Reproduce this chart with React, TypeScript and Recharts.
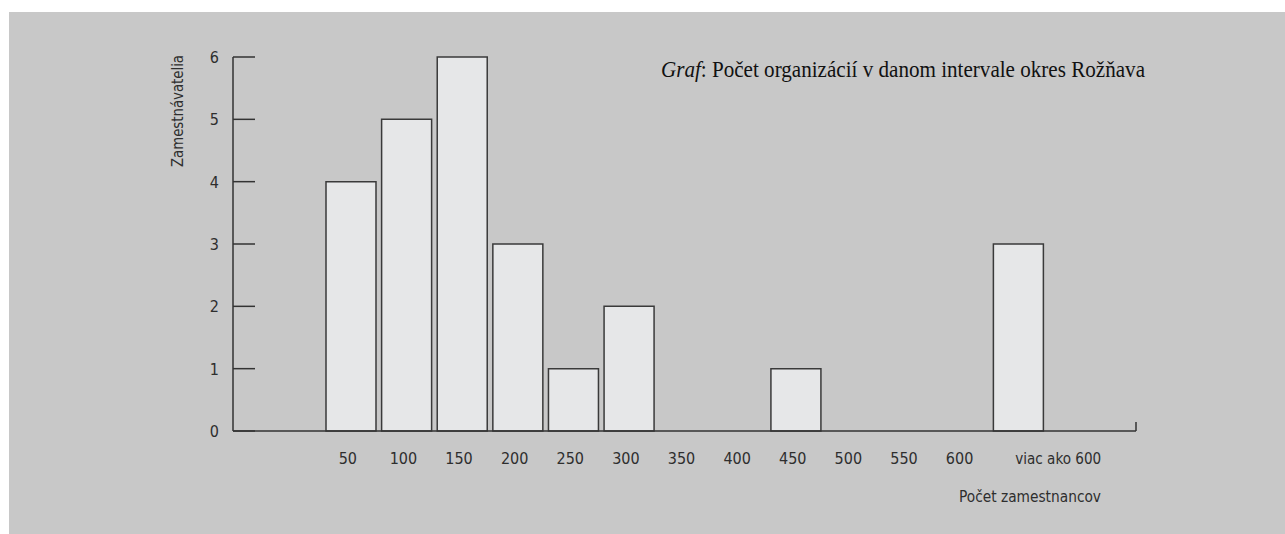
import React from "react";
import { BarChart, Bar, XAxis, YAxis } from "recharts";

const categories: string[] = ["50", "100", "150", "200", "250", "300", "350", "400", "450", "500", "550", "600", "viac ako 600"];
const counts: number[] = [4, 5, 6, 3, 1, 2, 0, 0, 1, 0, 0, 0, 3];
const yTicks: number[] = [0, 1, 2, 3, 4, 5, 6];

const titleItalic = "Graf";
const titleRest = ": Počet organizácií v danom intervale okres Rožňava";
const yLabel = "Zamestnávatelia";
const xLabel = "Počet zamestnancov";

const data = categories.map((c, i) => ({ name: c, value: counts[i] }));

const SANS = "'Liberation Sans Narrow', 'DejaVu Sans Condensed', sans-serif";
const SERIF = "'Liberation Serif', 'DejaVu Serif', serif";
const AXIS = "#333333";
const TEXT = "#2e2e2e";

const YTick = (props: any) => {
  const { x, y, payload } = props;
  return (
    <g>
      <line x1={x} y1={y} x2={x + 22} y2={y} stroke={AXIS} strokeWidth={1.5} />
      <text x={x - 14} y={y + 6} textAnchor="end" fontFamily={SANS} fontSize={16} fill={TEXT}>
        {payload.value}
      </text>
    </g>
  );
};

const XTick = (props: any) => {
  const { x, y, payload } = props;
  const long = payload.value === "viac ako 600";
  const shift = long ? 40 : -3;
  return (
    <text
      x={x + shift}
      y={y + 33}
      textAnchor="middle"
      fontFamily={SANS}
      fontSize={16}
      fill={TEXT}
      {...(long ? { textLength: 86, lengthAdjust: "spacingAndGlyphs" } : {})}
    >
      {payload.value}
    </text>
  );
};

const XLabel = (props: any) => {
  const vb = props.viewBox || {};
  const right = vb.x + vb.width;
  return (
    <g>
      <line x1={right} y1={vb.y - 9} x2={right} y2={vb.y} stroke={AXIS} strokeWidth={1.5} />
      <text
        x={950}
        y={vb.y + 71}
        fontFamily={SANS}
        fontSize={16}
        fill={TEXT}
        textLength={142}
        lengthAdjust="spacingAndGlyphs"
      >
        {xLabel}
      </text>
    </g>
  );
};

const YLabel = (props: any) => {
  const vb = props.viewBox || {};
  const cx = 168;
  const cy = vb.y + 54;
  return (
    <g>
      <text
        x={cx - 56}
        y={cy}
        transform={`rotate(-90 ${cx} ${cy})`}
        dominantBaseline="central"
        fontFamily={SANS}
        fontSize={16}
        fill={TEXT}
        textLength={112}
        lengthAdjust="spacingAndGlyphs"
      >
        {yLabel}
      </text>
      <text x={652} y={65} fontFamily={SERIF} fontSize={23} fill="#111" textLength={484} lengthAdjust="spacingAndGlyphs">
        <tspan fontStyle="italic">{titleItalic}</tspan>
        <tspan>{titleRest}</tspan>
      </text>
    </g>
  );
};

export default function App() {
  return (
    <div
      style={{
        position: "absolute",
        left: 9,
        top: 12,
        width: 1276,
        height: 522,
        background: "#c8c8c8",
      }}
    >
      <BarChart
        width={1276}
        height={522}
        data={data}
        margin={{ top: 45, right: 149, bottom: 73, left: 164 }}
      >
        <XAxis
          dataKey="name"
          type="category"
          height={30}
          padding={{ left: 90, right: 90 }}
          axisLine={{ stroke: AXIS, strokeWidth: 1.5 }}
          tickLine={false}
          tickSize={0}
          tickMargin={0}
          interval={0}
          tick={<XTick />}
          label={<XLabel />}
        />
        <YAxis
          type="number"
          width={60}
          domain={[0, 6]}
          ticks={yTicks}
          axisLine={{ stroke: AXIS, strokeWidth: 1.5 }}
          tickLine={false}
          tickSize={0}
          tickMargin={0}
          interval={0}
          tick={<YTick />}
          label={<YLabel />}
        />
        <Bar
          dataKey="value"
          barSize={50}
          fill="#e6e7e8"
          stroke="#3a3a3a"
          strokeWidth={1.5}
          isAnimationActive={false}
        />
      </BarChart>
    </div>
  );
}
